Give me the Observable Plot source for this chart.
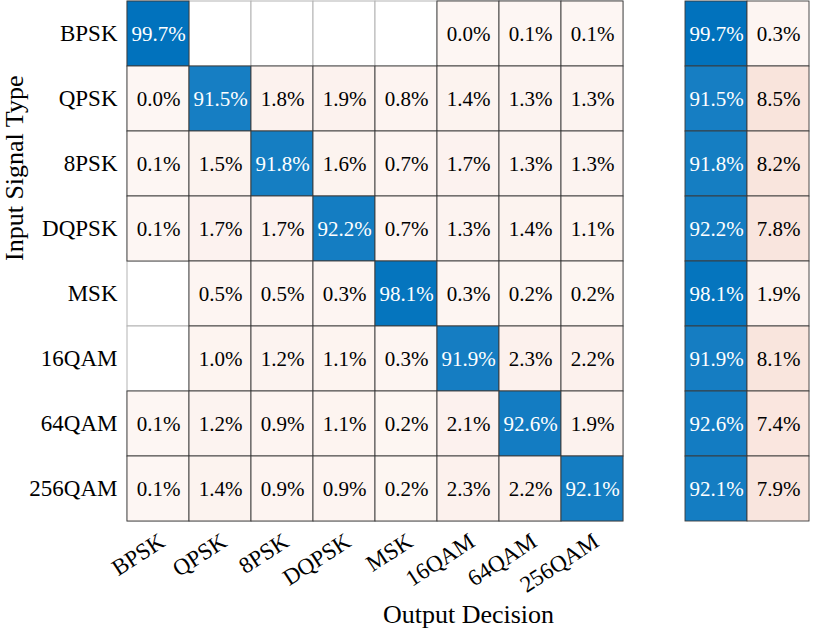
<!DOCTYPE html>
<html>
<head>
<meta charset="utf-8">
<script src="https://cdn.jsdelivr.net/npm/d3@7"></script>
<script src="https://cdn.jsdelivr.net/npm/@observablehq/plot@0.6"></script>
<style>
  html, body { margin: 0; padding: 0; background: white; }
  svg text { font-family: "Liberation Serif", "Times New Roman", serif !important; }
</style>
</head>
<body>
<div id="chart"></div>
<script>
// ---- data ----
const classes = ["BPSK", "QPSK", "8PSK", "DQPSK", "MSK", "16QAM", "64QAM", "256QAM"];
// rows = input signal type, columns = output decision (percent, null = empty cell)
const rowBPSK   = [99.7, null, null, null, null, 0.0, 0.1, 0.1];
const rowQPSK   = [0.0, 91.5, 1.8, 1.9, 0.8, 1.4, 1.3, 1.3];
const row8PSK   = [0.1, 1.5, 91.8, 1.6, 0.7, 1.7, 1.3, 1.3];
const rowDQPSK  = [0.1, 1.7, 1.7, 92.2, 0.7, 1.3, 1.4, 1.1];
const rowMSK    = [null, 0.5, 0.5, 0.3, 98.1, 0.3, 0.2, 0.2];
const row16QAM  = [null, 1.0, 1.2, 1.1, 0.3, 91.9, 2.3, 2.2];
const row64QAM  = [0.1, 1.2, 0.9, 1.1, 0.2, 2.1, 92.6, 1.9];
const row256QAM = [0.1, 1.4, 0.9, 0.9, 0.2, 2.3, 2.2, 92.1];
const correctPct   = [99.7, 91.5, 91.8, 92.2, 98.1, 91.9, 92.6, 92.1];
const incorrectPct = [0.3, 8.5, 8.2, 7.8, 1.9, 8.1, 7.4, 7.9];
const summaryCols = ["Correct", "Incorrect"];
const gapCol = "\u2002";
const xTitle = "Output Decision";
const yTitle = "Input Signal Type";

const rows = [rowBPSK, rowQPSK, row8PSK, rowDQPSK, rowMSK, row16QAM, row64QAM, row256QAM];

// ---- build tables ----
const grid = [];
const cells = [];
rows.forEach((r, i) => r.forEach((v, j) => {
  grid.push({row: classes[i], col: classes[j]});
  if (v !== null) cells.push({row: classes[i], col: classes[j], value: v, good: i === j});
}));
classes.forEach((c, i) => {
  cells.push({row: c, col: summaryCols[0], value: correctPct[i], good: true});
  cells.push({row: c, col: summaryCols[1], value: incorrectPct[i], good: false});
});

const blue = v => d3.interpolateRgb("#ffffff", "#0072BD")(v / 100);
const red = d3.scaleLinear().domain([0, 2.3, 8.5]).range(["#fdf6f3", "#fcf1ed", "#f9e4dc"]).clamp(true);
const fillFor = d => d.good ? blue(d.value) : red(d.value);

const font = "Liberation Serif";

const chart = Plot.plot({
  width: 814,
  height: 629,
  marginLeft: 124,
  marginRight: 2,
  marginTop: 0,
  marginBottom: 108,
  style: {fontFamily: font, background: "white", color: "black"},
  x: {domain: [...classes, gapCol, ...summaryCols], padding: 0, axis: null},
  y: {domain: classes, padding: 0, label: null},
  marks: [
    Plot.cell(grid, {x: "col", y: "row", fill: "white", stroke: "#b3b3b3", strokeWidth: 1}),
    Plot.cell(cells, {x: "col", y: "row", fill: fillFor, stroke: "#3a3a3a", strokeWidth: 0.9}),
    Plot.text(cells, {
      x: "col", y: "row",
      text: d => d.value.toFixed(1) + "%",
      fill: d => d.good ? "white" : "black",
      fontSize: 21, fontFamily: font
    }),
    Plot.axisY({tickSize: 0, tickPadding: 7, fontSize: 23, fontFamily: font, label: null}),
    Plot.text(classes, {
      x: d => d, frameAnchor: "bottom", dy: 10, dx: -1,
      rotate: -33, textAnchor: "end", lineAnchor: "top", fontSize: 23, fontFamily: font
    }),
    Plot.text([xTitle], {frameAnchor: "bottom", dy: 93, lineAnchor: "middle", fontSize: 26, fontFamily: font, text: d => d}),
    Plot.text([yTitle], {frameAnchor: "left", dx: -110, rotate: -90, lineAnchor: "middle", fontSize: 26, fontFamily: font, text: d => d})
  ]
});

document.getElementById("chart").appendChild(chart);
</script>
</body>
</html>
